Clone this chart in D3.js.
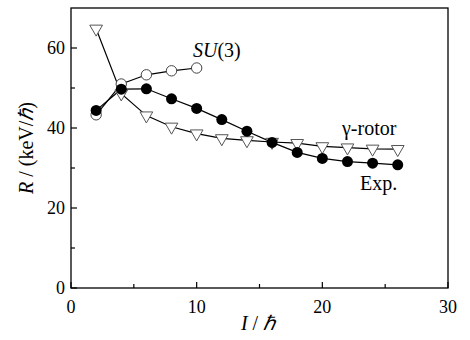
<!DOCTYPE html>
<html><head><meta charset="utf-8">
<script src="https://cdn.jsdelivr.net/npm/d3@7"></script>
<style>body{margin:0;background:#fff}svg{display:block}text{font-family:"Liberation Serif","Times New Roman",serif;fill:#000}</style>
</head><body><svg id="c" width="470" height="340"></svg>
<script>
const spinX = [2,4,6,8,10,12,14,16,18,20,22,24,26];
const expR = [44.4,49.7,49.8,47.3,44.9,42.1,39.2,36.4,33.9,32.4,31.6,31.2,30.8];
const gammaR = [64.8,48.6,43.1,40.3,38.6,37.4,36.9,36.5,36.2,35.4,35.1,34.8,34.7];
const su3X = [2,4,6,8,10];
const su3R = [43.3,51.0,53.3,54.3,55.0];
const xTicks = [0,10,20,30];
const yTicks = [0,20,40,60];
const xMinor = [5,15,25];
const yMinor = [10,30,50];

const svg = d3.select("#c");
const L=71,R=448,T=8,B=288;
const x = d3.scaleLinear().domain([0,30]).range([L,R]);
const y = d3.scaleLinear().domain([0,70]).range([B,T]);

// frame
svg.append("rect").attr("x",L).attr("y",T).attr("width",R-L).attr("height",B-T)
  .attr("fill","none").attr("stroke","#000").attr("stroke-width",1.3);

// ticks
const g = svg.append("g").attr("stroke","#000").attr("stroke-width",1.2);
xTicks.forEach(v=>g.append("line").attr("x1",x(v)).attr("x2",x(v)).attr("y1",B).attr("y2",B-6));
xMinor.forEach(v=>g.append("line").attr("x1",x(v)).attr("x2",x(v)).attr("y1",B).attr("y2",B-4));
yTicks.forEach(v=>g.append("line").attr("x1",L).attr("x2",L+6).attr("y1",y(v)).attr("y2",y(v)));
yMinor.forEach(v=>g.append("line").attr("x1",L).attr("x2",L+4).attr("y1",y(v)).attr("y2",y(v)));

svg.selectAll(".xl").data(xTicks).enter().append("text")
  .attr("x",d=>x(d)).attr("y",B+25).attr("text-anchor","middle").attr("font-size",18).text(d=>d);
svg.selectAll(".yl").data(yTicks).enter().append("text")
  .attr("x",L-6).attr("y",d=>y(d)+6).attr("text-anchor","end").attr("font-size",18).text(d=>d);

// axis titles
const xt = svg.append("text").attr("x",258).attr("y",330).attr("text-anchor","middle").attr("font-size",20);
xt.append("tspan").attr("font-style","italic").text("I");
xt.append("tspan").text(" / ");
xt.append("tspan").attr("font-style","italic").text("ℏ");
const yt = svg.append("text").attr("transform","translate(33,148) rotate(-90)").attr("text-anchor","middle").attr("font-size",20);
yt.append("tspan").attr("font-style","italic").text("R");
yt.append("tspan").text(" / (keV/");
yt.append("tspan").attr("font-style","italic").text("ℏ");
yt.append("tspan").text(")");

const line = d3.line().x(d=>x(d[0])).y(d=>y(d[1]));
const gam = spinX.map((v,i)=>[v,gammaR[i]]);
const su = su3X.map((v,i)=>[v,su3R[i]]);
const ex = spinX.map((v,i)=>[v,expR[i]]);

svg.append("path").datum(gam).attr("d",line).attr("fill","none").attr("stroke","#000").attr("stroke-width",1.2);
svg.append("path").datum(su).attr("d",line).attr("fill","none").attr("stroke","#000").attr("stroke-width",1.2);
svg.append("path").datum(ex).attr("d",line).attr("fill","none").attr("stroke","#000").attr("stroke-width",1.2);

const tri = d3.symbol().type(d3.symbolTriangle).size(70);
svg.selectAll(".tri").data(gam).enter().append("path")
  .attr("d",tri).attr("transform",d=>`translate(${x(d[0])},${y(d[1])}) rotate(180)`)
  .attr("fill","#fff").attr("stroke","#555").attr("stroke-width",1);
svg.selectAll(".oc").data(su).enter().append("circle")
  .attr("cx",d=>x(d[0])).attr("cy",d=>y(d[1])).attr("r",5.2)
  .attr("fill","#fff").attr("stroke","#444").attr("stroke-width",1);
svg.selectAll(".fc").data(ex).enter().append("circle")
  .attr("cx",d=>x(d[0])).attr("cy",d=>y(d[1])).attr("r",5.5).attr("fill","#000");

// labels
const sl = svg.append("text").attr("x",193).attr("y",57).attr("font-size",20);
sl.append("tspan").attr("font-style","italic").text("SU");
sl.append("tspan").text("(3)");
svg.append("text").attr("x",342).attr("y",135).attr("font-size",20).text("γ-rotor");
svg.append("text").attr("x",360).attr("y",190).attr("font-size",20).text("Exp.");
</script></body></html>
